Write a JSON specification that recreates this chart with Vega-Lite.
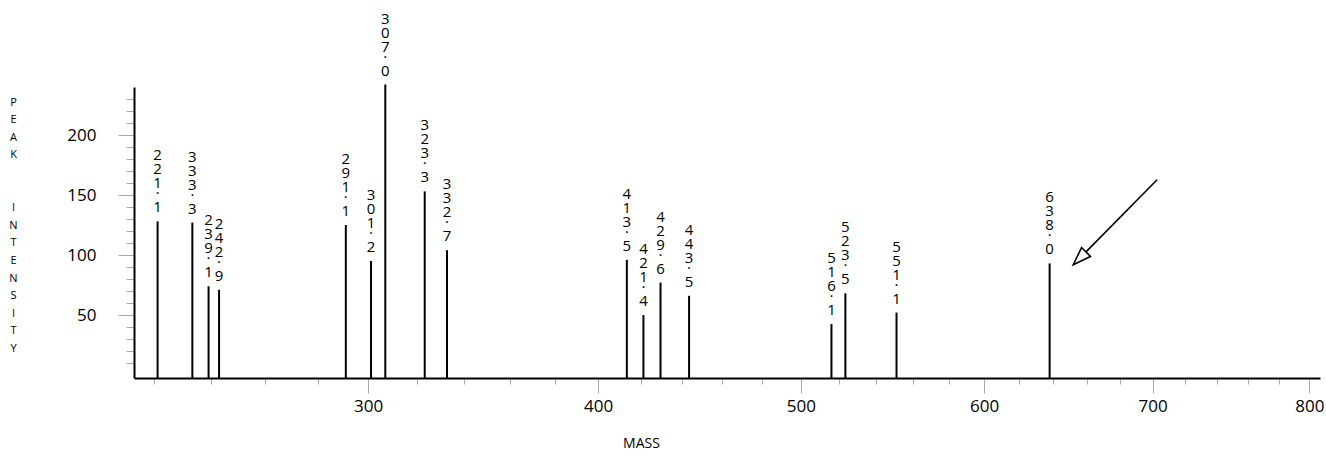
{
  "$schema": "https://vega.github.io/schema/vega-lite/v6.json",
  "width": 1186,
  "height": 291,
  "autosize": {"type": "none"},
  "padding": {"left": 134, "top": 87, "right": 6, "bottom": 81},
  "background": "white",
  "config": {"view": {"stroke": null}, "font": "Open Sans"},
  "datasets": {
    "peaks": [
      {"mass": 221.1, "intensity": 128, "head": ["2","2","1"], "tail": "1"},
      {"mass": 233.3, "intensity": 127, "head": ["3","3","3"], "tail": "3"},
      {"mass": 239.1, "intensity": 74, "head": ["2","3","9"], "tail": "1"},
      {"mass": 242.9, "intensity": 71, "head": ["2","4","2"], "tail": "9"},
      {"mass": 291.1, "intensity": 125, "head": ["2","9","1"], "tail": "1"},
      {"mass": 301.2, "intensity": 95, "head": ["3","0","1"], "tail": "2"},
      {"mass": 307.0, "intensity": 242, "head": ["3","0","7"], "tail": "0"},
      {"mass": 323.3, "intensity": 153, "head": ["3","2","3"], "tail": "3"},
      {"mass": 332.7, "intensity": 104, "head": ["3","3","2"], "tail": "7"},
      {"mass": 413.5, "intensity": 96, "head": ["4","1","3"], "tail": "5"},
      {"mass": 421.4, "intensity": 50, "head": ["4","2","1"], "tail": "4"},
      {"mass": 429.6, "intensity": 77, "head": ["4","2","9"], "tail": "6"},
      {"mass": 443.5, "intensity": 66, "head": ["4","4","3"], "tail": "5"},
      {"mass": 516.1, "intensity": 42.5, "head": ["5","1","6"], "tail": "1"},
      {"mass": 523.5, "intensity": 68, "head": ["5","2","3"], "tail": "5"},
      {"mass": 551.1, "intensity": 52, "head": ["5","5","1"], "tail": "1"},
      {"mass": 638.0, "intensity": 93, "head": ["6","3","8"], "tail": "0"}
    ],
    "arrow": [
      {"x": 702.8, "y": 162.7, "x2": 659.6, "y2": 102.6}
    ],
    "arrowhead": [
      {"x": 652.0, "y": 91.9}
    ]
  },
  "layer": [
    {
      "data": {"name": "peaks"},
      "mark": {"type": "rule", "strokeWidth": 2, "color": "black"},
      "encoding": {
        "x": {
          "field": "mass", "type": "quantitative",
          "scale": {"type": "sqrt", "domain": [213, 807], "zero": false, "nice": false},
          "axis": {
            "values": [220,240,260,280,300,320,340,360,380,400,420,440,460,480,500,520,540,560,580,600,620,640,660,680,700,720,740,760,780,800],
            "tickCount": 200,
            "labelExpr": "datum.value % 100 === 0 ? datum.label : ''",
            "tickSize": 15,
            "tickDash": {"condition": {"test": "datum.value % 100 === 0", "value": [15, 0]}, "value": [6, 30]},
            "tickColor": "#aaaaaa",
            "tickWidth": 1,
            "domainColor": "black",
            "domainWidth": 2,
            "grid": false,
            "labelFontSize": 17,
            "labelColor": "black",
            "labelPadding": 5,
            "labelFlush": false,
            "labelOverlap": false,
            "title": "MASS",
            "titleFontSize": 14,
            "titleFontWeight": "normal",
            "titleColor": "black",
            "titleX": 507,
            "titleY": 65,
            "titleBaseline": "middle",
            "titleAlign": "center"
          }
        },
        "y": {
          "field": "intensity", "type": "quantitative",
          "scale": {"domain": [-2.5, 240], "zero": false, "nice": false},
          "axis": {
            "values": [10,20,30,40,50,60,70,80,90,100,110,120,130,140,150,160,170,180,190,200,210,220,230],
            "tickCount": 200,
            "labelExpr": "datum.value % 50 === 0 ? datum.label : ''",
            "tickSize": 16,
            "tickDash": {"condition": {"test": "datum.value % 50 === 0", "value": [16, 0]}, "value": [8, 30]},
            "tickColor": "#aaaaaa",
            "tickWidth": 1,
            "domainColor": "black",
            "domainWidth": 2,
            "grid": false,
            "labelFontSize": 17,
            "labelColor": "black",
            "labelPadding": 22,
            "labelFlush": false,
            "labelOverlap": false,
            "title": ["P","E","A","K","\u200b","\u200b","I","N","T","E","N","S","I","T","Y"],
            "titleAngle": 0,
            "titleFontSize": 11,
            "titleFontWeight": "normal",
            "titleColor": "black",
            "titleLineHeight": 17.6,
            "titleX": -121,
            "titleY": 9,
            "titleBaseline": "top",
            "titleAlign": "center"
          }
        },
        "y2": {"datum": -2.5}
      }
    },
    {
      "data": {"name": "peaks"},
      "mark": {"type": "text", "baseline": "alphabetic", "align": "center", "dy": -61, "lineHeight": 14, "fontSize": 15, "font": "Open Sans", "color": "black"},
      "encoding": {
        "x": {"field": "mass", "type": "quantitative"},
        "y": {"field": "intensity", "type": "quantitative"},
        "text": {"field": "head", "type": "nominal"}
      }
    },
    {
      "data": {"name": "peaks"},
      "mark": {"type": "text", "baseline": "alphabetic", "align": "center", "dy": -27, "fontSize": 15, "font": "Open Sans", "color": "black"},
      "encoding": {
        "x": {"field": "mass", "type": "quantitative"},
        "y": {"field": "intensity", "type": "quantitative"},
        "text": {"value": "."}
      }
    },
    {
      "data": {"name": "peaks"},
      "mark": {"type": "text", "baseline": "alphabetic", "align": "center", "dy": -9, "fontSize": 15, "font": "Open Sans", "color": "black"},
      "encoding": {
        "x": {"field": "mass", "type": "quantitative"},
        "y": {"field": "intensity", "type": "quantitative"},
        "text": {"field": "tail", "type": "nominal"}
      }
    },
    {
      "data": {"name": "arrow"},
      "mark": {"type": "rule", "strokeWidth": 1.6, "color": "black"},
      "encoding": {
        "x": {"field": "x", "type": "quantitative"},
        "y": {"field": "y", "type": "quantitative"},
        "x2": {"field": "x2"},
        "y2": {"field": "y2"}
      }
    },
    {
      "data": {"name": "arrowhead"},
      "mark": {"type": "point", "shape": "M0,0L-0.7,2L0.7,2Z", "size": 324, "angle": 225, "filled": false, "fill": "white", "fillOpacity": 1, "stroke": "black", "strokeWidth": 1.6, "opacity": 1},
      "encoding": {
        "x": {"field": "x", "type": "quantitative"},
        "y": {"field": "y", "type": "quantitative"}
      }
    }
  ]
}
